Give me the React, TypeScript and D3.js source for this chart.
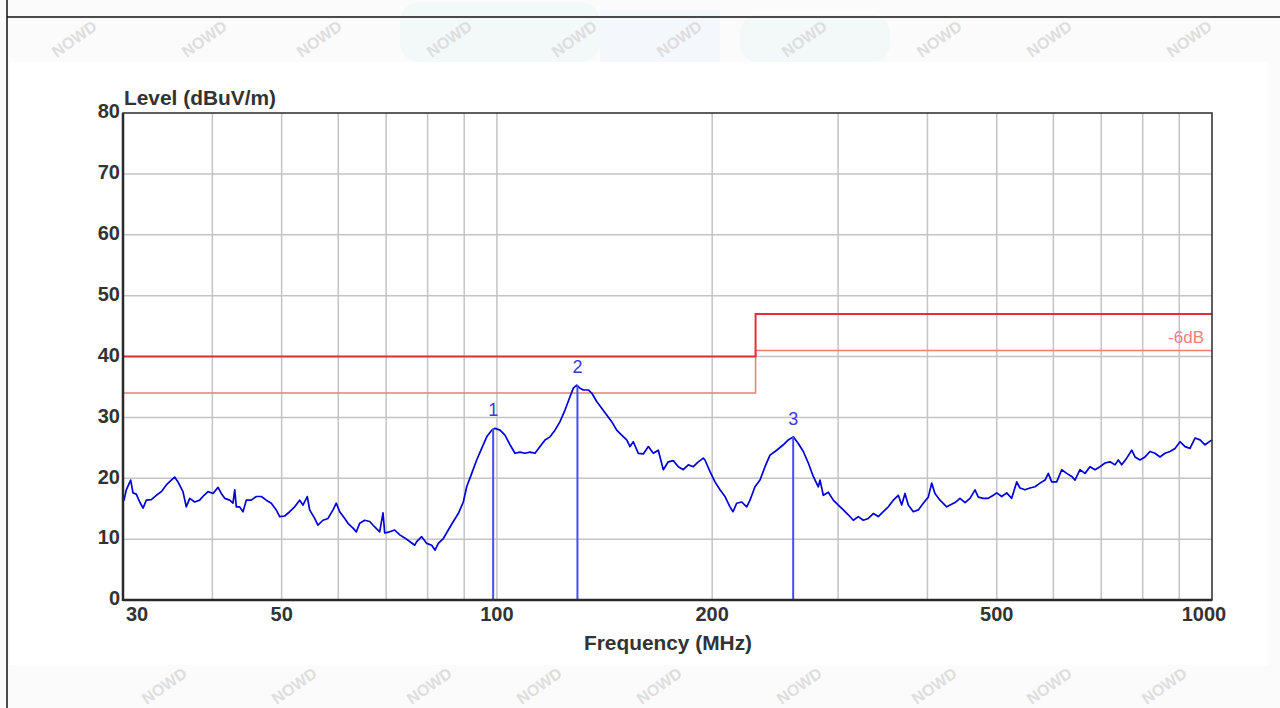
import React from "react";
import * as d3 from "d3";

// ---- data ----
const FREQ = [
  30.0, 30.1, 30.32, 30.75, 30.98, 31.31, 31.66, 32.0, 32.34, 32.86, 33.4, 33.94, 34.49, 35.05, 35.43, 35.81,
  36.39, 36.78, 37.19, 37.79, 38.4, 38.94, 39.45, 40.08, 40.74, 41.17, 41.63, 42.3, 42.75, 42.99, 43.21, 43.68,
  44.15, 44.62, 45.35, 46.08, 46.83, 47.59, 48.36, 49.14, 49.68, 50.49, 51.31, 52.14, 52.99, 53.55, 54.3, 54.72,
  55.61, 56.2, 57.12, 58.05, 58.99, 59.62, 60.28, 61.26, 61.91, 62.92, 63.59, 64.29, 65.33, 66.39, 67.47, 68.56,
  69.3, 69.68, 70.81, 71.96, 73.13, 74.31, 75.52, 76.75, 77.24, 78.49, 79.77, 81.06, 81.93, 82.8, 84.15, 85.51,
  86.9, 88.31, 89.75, 90.73, 92.21, 93.7, 95.22, 96.77, 98.34, 99.39, 101.0, 102.64, 104.31, 106.0, 107.72, 109.47,
  111.25, 113.05, 114.89, 116.75, 118.65, 120.57, 122.53, 124.52, 126.54, 127.89, 129.3, 130.68, 132.08, 134.22, 135.7, 137.9,
  140.14, 142.41, 144.73, 147.07, 149.46, 151.89, 153.51, 155.15, 157.67, 160.23, 162.83, 165.47, 168.15, 170.88, 173.65, 176.47,
  179.34, 182.25, 185.21, 188.21, 191.27, 194.37, 195.44, 198.61, 201.83, 205.11, 208.44, 211.82, 213.88, 216.44, 219.95, 223.52,
  225.91, 229.58, 233.3, 237.09, 240.94, 246.19, 251.48, 255.56, 259.71, 263.92, 268.21, 272.56, 276.98, 281.48, 283.02, 286.05,
  290.69, 295.4, 300.2, 305.07, 310.02, 315.05, 320.17, 325.36, 330.64, 336.0, 341.46, 347.0, 352.63, 358.36, 364.18, 368.18,
  372.12, 376.09, 382.19, 388.4, 394.7, 401.11, 405.52, 409.85, 416.51, 425.59, 437.14, 444.23, 451.44, 458.77, 466.21, 471.2,
  478.84, 486.61, 494.51, 499.95, 508.06, 516.31, 524.69, 533.21, 538.9, 547.65, 556.54, 565.57, 574.75, 584.07, 590.32, 596.81,
  606.5, 616.35, 626.35, 636.51, 643.32, 653.76, 664.37, 675.16, 686.12, 697.25, 708.57, 720.06, 731.75, 739.57, 747.7, 759.83,
  772.17, 780.42, 793.09, 805.96, 819.04, 832.34, 845.84, 859.57, 873.52, 887.7, 902.11, 916.75, 931.63, 946.75, 962.11, 977.73,
  1000.0,
];
const LEVEL = [
  17.0, 16.4, 18.1, 19.7, 17.6, 17.4, 16.1, 15.1, 16.4, 16.5, 17.2, 17.8, 18.9, 19.7, 20.2, 19.4,
  17.8, 15.3, 16.7, 16.1, 16.4, 17.2, 17.8, 17.5, 18.5, 17.5, 16.7, 16.4, 15.9, 18.1, 15.3, 15.3,
  14.5, 16.4, 16.4, 17.0, 17.0, 16.4, 15.9, 14.8, 13.7, 13.8, 14.5, 15.3, 16.4, 15.6, 17.0, 14.8,
  13.4, 12.3, 13.1, 13.4, 14.8, 15.9, 14.5, 13.4, 12.6, 11.8, 11.2, 12.6, 13.1, 12.9, 12.0, 11.2,
  14.3, 11.0, 11.2, 11.5, 10.7, 10.2, 9.6, 9.0, 9.6, 10.4, 9.3, 9.0, 8.2, 9.3, 10.1, 11.5,
  12.9, 14.2, 16.1, 18.6, 20.8, 23.0, 24.9, 26.8, 27.9, 28.2, 27.9, 27.1, 25.5, 24.1, 24.3, 24.1,
  24.3, 24.1, 25.2, 26.3, 26.8, 27.9, 29.3, 31.2, 33.4, 34.8, 35.3, 34.8, 34.5, 34.5, 34.0, 32.6,
  31.5, 30.4, 29.3, 27.9, 27.1, 26.3, 25.2, 26.0, 24.1, 24.0, 25.2, 24.1, 24.6, 21.4, 22.7, 22.9,
  21.9, 21.4, 22.2, 21.9, 22.7, 23.3, 23.0, 21.1, 19.4, 18.1, 17.0, 15.3, 14.5, 15.9, 16.1, 15.3,
  16.4, 18.6, 19.7, 21.9, 23.8, 24.6, 25.5, 26.3, 26.8, 25.7, 24.4, 22.5, 20.3, 18.6, 19.7, 17.2,
  17.7, 16.4, 15.6, 14.8, 14.0, 13.1, 13.7, 13.1, 13.4, 14.2, 13.7, 14.5, 15.3, 16.4, 17.2, 15.6,
  17.5, 15.6, 14.5, 14.8, 15.9, 16.9, 19.2, 17.5, 16.4, 15.3, 16.0, 16.7, 16.0, 16.7, 18.1, 16.9,
  16.7, 16.7, 17.2, 17.6, 17.0, 17.6, 16.7, 19.4, 18.4, 18.1, 18.4, 18.6, 19.2, 19.7, 20.8, 19.4,
  19.4, 21.4, 20.8, 20.3, 19.7, 21.4, 20.8, 21.9, 21.4, 21.9, 22.5, 22.7, 22.2, 23.0, 22.2, 23.3,
  24.6, 23.5, 23.0, 23.5, 24.4, 24.1, 23.5, 24.1, 24.4, 24.9, 26.0, 25.2, 24.9, 26.6, 26.3, 25.5,
  26.3,
];

const LIMIT_FREQ = [30, 230, 230, 1000];
const LIMIT_LEVEL = [40, 40, 47, 47];
const MARGIN_DB = 6;

const MARKER_FREQ = [98.8, 129.6, 259.6];
const MARKER_LEVEL = [28.2, 35.3, 26.8];
const MARKER_LABEL = ["1", "2", "3"];

const Y_TICKS = [0, 10, 20, 30, 40, 50, 60, 70, 80];
const X_GRID = [40, 50, 60, 70, 80, 90, 100, 200, 300, 400, 500, 600, 700, 800, 900];
const X_LABELS = [30, 50, 100, 200, 500, 1000];

const WATERMARKS: [number, number][] = [
  [75, 40], [205, 40], [320, 40], [450, 40], [575, 40], [680, 40], [805, 40], [940, 40], [1050, 40], [1190, 40],
  [165, 687], [295, 687], [430, 687], [540, 687], [660, 687], [800, 687], [935, 687], [1050, 687], [1165, 687],
];

const FONT = "'Liberation Sans', Arial, Helvetica, sans-serif";

export default function App() {
  const W = 1280, H = 708;
  const x = d3.scaleLog().domain([30, 1000]).range([123, 1212]);
  const y = d3.scaleLinear().domain([0, 80]).range([600, 113]);

  const trace = d3
    .line<number>()
    .x((_, i) => x(FREQ[i]))
    .y((v) => y(v))(LEVEL) as string;

  const limitLine = d3
    .line<number>()
    .x((_, i) => x(LIMIT_FREQ[i]))
    .y((v) => y(v));
  const limitPath = limitLine(LIMIT_LEVEL) as string;
  const marginPath = limitLine(LIMIT_LEVEL.map((v) => v - MARGIN_DB)) as string;

  const [x0, x1] = x.range();
  const [yb, yt] = y.range();

  return (
    <svg width={W} height={H} style={{ position: "absolute", left: 0, top: 0, background: "#fbfbfb" }}>
      {/* page decorations */}
      <rect x={0} y={0} width={W} height={H} fill="#fbfbfb" />
      <rect x={400} y={2} width={200} height={60} rx={20} fill="#f2f9f8" />
      <rect x={600} y={10} width={120} height={52} fill="#f4f7fc" />
      <rect x={740} y={15} width={150} height={47} rx={18} fill="#f2f9f8" />
      {WATERMARKS.map(([wx, wy], i) => (
        <text
          key={i}
          x={wx}
          y={wy}
          transform={`rotate(-35 ${wx} ${wy})`}
          textAnchor="middle"
          dominantBaseline="middle"
          fontFamily={FONT}
          fontWeight="bold"
          fontSize={16}
          fill="#dedede"
        >
          NOWD
        </text>
      ))}
      <line x1={7} y1={0} x2={7} y2={H} stroke="#111" strokeWidth={1.5} />
      <line x1={7} y1={17} x2={W} y2={17} stroke="#111" strokeWidth={1.5} />
      <rect x={10} y={62} width={1258} height={603} fill="#ffffff" />

      {/* grid */}
      {Y_TICKS.filter((t) => t > 0 && t < 80).map((t) => (
        <line key={"gy" + t} x1={x0} x2={x1} y1={y(t)} y2={y(t)} stroke="#c4c4c4" strokeWidth={1.5} />
      ))}
      {X_GRID.map((f) => (
        <line key={"gx" + f} x1={x(f)} x2={x(f)} y1={yt} y2={yb} stroke="#c4c4c4" strokeWidth={1.5} />
      ))}

      {/* limits */}
      <path d={marginPath} fill="none" stroke="#f07a7a" strokeWidth={1.5} />
      <path d={limitPath} fill="none" stroke="#e0303a" strokeWidth={2} />
      <text x={1204} y={y(LIMIT_LEVEL[3] - MARGIN_DB) - 12} textAnchor="end" dominantBaseline="middle"
        fontFamily={FONT} fontSize={17} fill="#f08080">-6dB</text>

      {/* trace */}
      <path d={trace} fill="none" stroke="#0000d8" strokeWidth={1.7} strokeLinejoin="round" />

      {/* markers */}
      {MARKER_FREQ.map((f, i) => (
        <g key={"m" + i}>
          <line x1={x(f)} x2={x(f)} y1={y(MARKER_LEVEL[i])} y2={yb} stroke="#4a4aff" strokeWidth={2} />
          <text x={x(f)} y={y(MARKER_LEVEL[i]) - 17} textAnchor="middle" dominantBaseline="middle"
            fontFamily={FONT} fontSize={18} fill="#3a3ad0">{MARKER_LABEL[i]}</text>
        </g>
      ))}

      {/* frame */}
      <rect x={x0} y={yt} width={x1 - x0} height={yb - yt} fill="none" stroke="#2a2a2a" strokeWidth={1.5} />
      <line x1={x0} x2={x0} y1={yt} y2={yb + 1} stroke="#2a2a2a" strokeWidth={2.5} />
      <line x1={x0} x2={x1} y1={yb} y2={yb} stroke="#2a2a2a" strokeWidth={2.5} />

      {/* y labels */}
      {Y_TICKS.map((t) => (
        <text key={"ly" + t} x={120} y={y(t)} textAnchor="end" dominantBaseline="middle"
          fontFamily={FONT} fontWeight="bold" fontSize={20} fill="#333">{t}</text>
      ))}
      {/* x labels */}
      {X_LABELS.map((f, i) => {
        const first = i === 0, last = i === X_LABELS.length - 1;
        return (
          <text key={"lx" + f} x={first ? x(f) + 3 : last ? x(f) - 8 : x(f)} y={616}
            textAnchor={first ? "start" : "middle"} dominantBaseline="middle"
            fontFamily={FONT} fontWeight="bold" fontSize={20} fill="#333">{f}</text>
        );
      })}

      <text x={124} y={105} fontFamily={FONT} fontWeight="bold" fontSize={20} fill="#333"
        textLength={152} lengthAdjust="spacingAndGlyphs">Level (dBuV/m)</text>
      <text x={668} y={650} textAnchor="middle" fontFamily={FONT} fontWeight="bold" fontSize={20} fill="#333"
        textLength={168} lengthAdjust="spacingAndGlyphs">Frequency (MHz)</text>
    </svg>
  );
}
